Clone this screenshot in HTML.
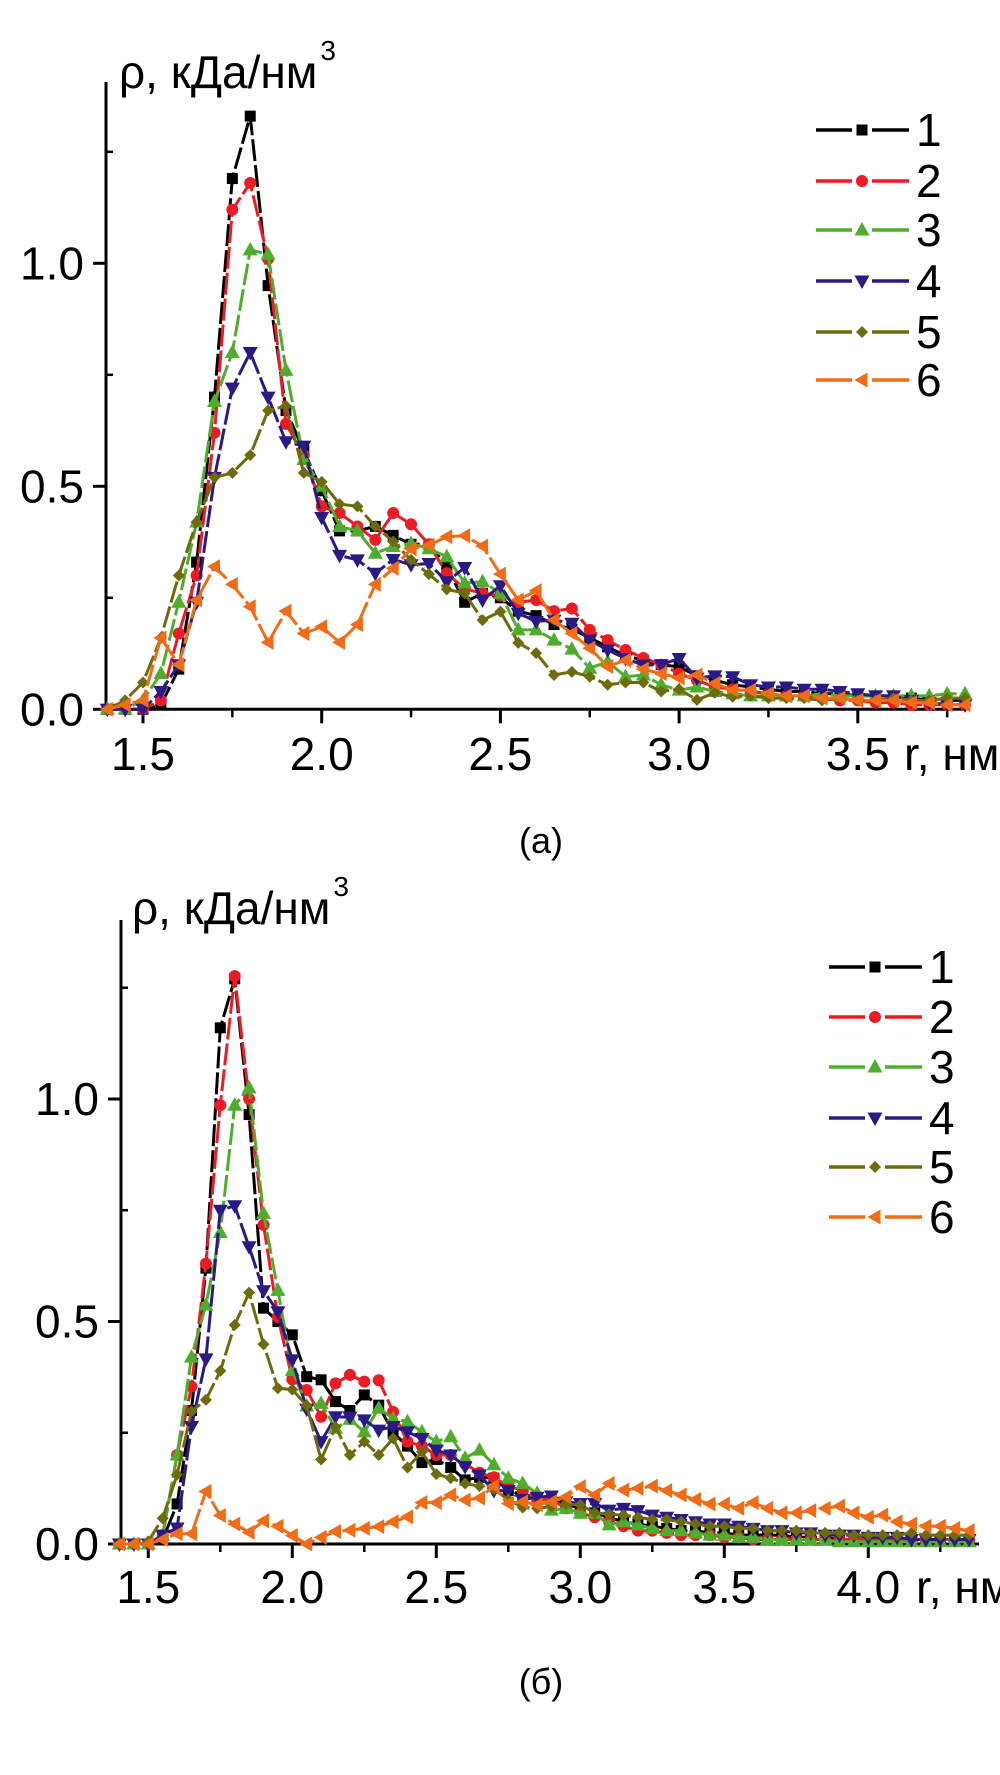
<!DOCTYPE html>
<html><head><meta charset="utf-8">
<style>
html,body{margin:0;padding:0;background:#fff;}
svg{display:block;}
text{font-family:"Liberation Sans",sans-serif;}
</style></head>
<body>
<svg id="fig" width="1000" height="1775" viewBox="0 0 1000 1775" xmlns="http://www.w3.org/2000/svg">
<rect width="1000" height="1775" fill="#fff"/>
</svg>
<script>
// ---------- data: panel (a) ----------
const rA = [1.40,1.45,1.50,1.55,1.60,1.65,1.70,1.75,1.80,1.85,1.90,1.95,2.00,2.05,2.10,2.15,2.20,2.25,2.30,2.35,2.40,2.45,2.50,2.55,2.60,2.65,2.70,2.75,2.80,2.85,2.90,2.95,3.00,3.05,3.10,3.15,3.20,3.25,3.30,3.35,3.40,3.45,3.50,3.55,3.60,3.65,3.70,3.75,3.80];
const a1 = [0,0,0,0.01,0.09,0.33,0.70,1.19,1.33,0.95,0.67,0.58,0.49,0.40,0.40,0.41,0.39,0.37,0.37,0.32,0.24,0.26,0.25,0.22,0.21,0.19,0.18,0.16,0.14,0.12,0.11,0.10,0.095,0.075,0.065,0.055,0.05,0.045,0.04,0.04,0.035,0.035,0.03,0.03,0.03,0.025,0.02,0.02,0.02];
const a2 = [0,0,0,0.02,0.17,0.30,0.62,1.12,1.18,1.01,0.64,0.57,0.455,0.44,0.41,0.38,0.44,0.415,0.37,0.305,0.27,0.26,0.255,0.24,0.245,0.22,0.226,0.178,0.155,0.133,0.115,0.10,0.08,0.065,0.05,0.045,0.04,0.035,0.03,0.03,0.025,0.02,0.02,0.015,0.015,0.01,0.01,0.01,0.01];
const a3 = [0,0,0.02,0.08,0.24,0.42,0.69,0.80,1.03,1.02,0.76,0.56,0.50,0.41,0.40,0.35,0.365,0.372,0.36,0.342,0.283,0.286,0.26,0.178,0.178,0.155,0.135,0.092,0.107,0.073,0.077,0.055,0.043,0.05,0.04,0.035,0.03,0.03,0.03,0.03,0.035,0.03,0.03,0.03,0.03,0.03,0.03,0.035,0.035];
const a4 = [0,0,0,0.04,0.10,0.24,0.52,0.72,0.80,0.70,0.60,0.59,0.43,0.345,0.335,0.305,0.336,0.324,0.327,0.286,0.318,0.245,0.277,0.215,0.197,0.20,0.193,0.155,0.133,0.114,0.099,0.10,0.114,0.07,0.075,0.073,0.055,0.05,0.05,0.045,0.045,0.04,0.035,0.03,0.03,0.02,0.015,0.01,0.01];
const a5 = [0,0.02,0.06,0.16,0.30,0.42,0.52,0.53,0.57,0.67,0.68,0.53,0.51,0.46,0.455,0.41,0.376,0.335,0.303,0.269,0.26,0.20,0.219,0.149,0.126,0.077,0.084,0.073,0.055,0.06,0.06,0.04,0.045,0.021,0.037,0.028,0.03,0.025,0.025,0.025,0.02,0.025,0.02,0.02,0.025,0.02,0.02,0.025,0.025];
const a6 = [0,0.01,0.02,0.16,0.10,0.245,0.32,0.28,0.23,0.15,0.22,0.17,0.185,0.15,0.19,0.28,0.316,0.36,0.368,0.387,0.389,0.366,0.303,0.245,0.266,0.20,0.17,0.137,0.096,0.11,0.09,0.08,0.07,0.077,0.058,0.043,0.043,0.035,0.03,0.03,0.025,0.025,0.02,0.02,0.02,0.015,0.015,0.01,0.01];
const xTicksA = ["1.5","2.0","2.5","3.0","3.5"];
// ---------- data: panel (b) ----------
const rB = [1.40,1.45,1.50,1.55,1.60,1.65,1.70,1.75,1.80,1.85,1.90,1.95,2.00,2.05,2.10,2.15,2.20,2.25,2.30,2.35,2.40,2.45,2.50,2.55,2.60,2.65,2.70,2.75,2.80,2.85,2.90,2.95,3.00,3.05,3.10,3.15,3.20,3.25,3.30,3.35,3.40,3.45,3.50,3.55,3.60,3.65,3.70,3.75,3.80,3.85,3.90,3.95,4.00,4.05,4.10,4.15,4.20,4.25,4.30,4.35];
const b1 = [0,0,0,0.01,0.09,0.30,0.62,1.16,1.27,0.965,0.53,0.50,0.47,0.376,0.369,0.32,0.30,0.335,0.312,0.25,0.22,0.183,0.19,0.172,0.144,0.15,0.148,0.12,0.11,0.10,0.10,0.09,0.08,0.07,0.06,0.05,0.045,0.04,0.035,0.03,0.03,0.025,0.025,0.02,0.02,0.02,0.02,0.015,0.015,0.015,0.01,0.01,0.01,0.01,0.01,0.01,0.01,0.01,0.01,0.01];
const b2 = [0,0,0,0.02,0.20,0.354,0.63,0.986,1.276,1.00,0.717,0.51,0.37,0.346,0.286,0.361,0.38,0.365,0.368,0.297,0.23,0.22,0.20,0.20,0.18,0.16,0.15,0.13,0.12,0.10,0.10,0.08,0.07,0.06,0.05,0.04,0.03,0.03,0.025,0.02,0.02,0.02,0.015,0.015,0.01,0.01,0.01,0.01,0.01,0.01,0.01,0.01,0.01,0.01,0.01,0.01,0.01,0.01,0.01,0.01];
const b3 = [0,0,0,0.02,0.20,0.42,0.537,0.70,0.986,1.025,0.743,0.57,0.39,0.31,0.316,0.26,0.28,0.252,0.305,0.282,0.275,0.252,0.23,0.241,0.193,0.211,0.178,0.148,0.136,0.114,0.076,0.08,0.069,0.069,0.043,0.05,0.043,0.035,0.03,0.03,0.025,0.02,0.02,0.015,0.015,0.01,0.01,0.01,0.01,0.01,0.005,0.005,0.005,0.005,0.005,0.005,0.005,0.005,0.005,0.005];
const b4 = [0,0,0,0.02,0.036,0.264,0.416,0.75,0.76,0.668,0.569,0.522,0.414,0.303,0.23,0.286,0.285,0.279,0.256,0.264,0.252,0.237,0.211,0.20,0.174,0.155,0.12,0.12,0.10,0.105,0.108,0.095,0.091,0.091,0.076,0.08,0.075,0.065,0.06,0.055,0.05,0.045,0.045,0.04,0.035,0.03,0.03,0.025,0.025,0.02,0.02,0.02,0.015,0.015,0.015,0.01,0.01,0.01,0.01,0.01];
const b5 = [0,0,0.006,0.058,0.156,0.298,0.324,0.389,0.492,0.565,0.449,0.35,0.347,0.311,0.19,0.263,0.20,0.23,0.20,0.237,0.172,0.207,0.157,0.148,0.136,0.13,0.123,0.10,0.082,0.08,0.084,0.09,0.088,0.07,0.067,0.065,0.06,0.055,0.055,0.05,0.045,0.04,0.04,0.035,0.035,0.03,0.03,0.03,0.025,0.025,0.025,0.02,0.02,0.02,0.02,0.025,0.02,0.02,0.02,0.02];
const b6 = [0,0,0,0.01,0.023,0.023,0.118,0.064,0.045,0.026,0.052,0.04,0.019,0.0,0.015,0.028,0.031,0.035,0.039,0.05,0.061,0.093,0.093,0.11,0.099,0.103,0.13,0.091,0.095,0.088,0.095,0.106,0.129,0.11,0.136,0.121,0.125,0.13,0.12,0.11,0.10,0.09,0.09,0.08,0.093,0.08,0.07,0.07,0.075,0.08,0.085,0.07,0.06,0.065,0.05,0.045,0.04,0.04,0.035,0.03];
const xTicksB = ["1.5","2.0","2.5","3.0","3.5","4.0"];
const yTicks = ["0.0","0.5","1.0"];
const seriesLabels = ["1","2","3","4","5","6"];

const NS = "http://www.w3.org/2000/svg";
const svg = document.getElementById('fig');
const colors = ["#000000","#ec1c24","#4fad2d","#2b1a86","#6e6b0c","#f26b16"];
const markers = ["square","circle","up","down","diamond","left"];
const FS = 46;

function mk(tag, attrs, parent){
  const e = document.createElementNS(NS, tag);
  for (const k in attrs) e.setAttribute(k, attrs[k]);
  (parent||svg).appendChild(e);
  return e;
}
function marker(g, type, x, y, c){
  let e;
  if (type==="square"){ e = mk('rect',{x:x-5.5,y:y-5.5,width:11,height:11,fill:c},g); }
  else if (type==="circle"){ e = mk('circle',{cx:x,cy:y,r:6,fill:c},g); }
  else if (type==="up"){ e = mk('polygon',{points:`${x},${y-8} ${x-7.5},${y+5.5} ${x+7.5},${y+5.5}`,fill:c},g); }
  else if (type==="down"){ e = mk('polygon',{points:`${x},${y+8} ${x-7.5},${y-5.5} ${x+7.5},${y-5.5}`,fill:c},g); }
  else if (type==="diamond"){ e = mk('polygon',{points:`${x},${y-6} ${x+6},${y} ${x},${y+6} ${x-6},${y}`,fill:c},g); }
  else { e = mk('polygon',{points:`${x-7.5},${y} ${x+5.5},${y-7.5} ${x+5.5},${y+7.5}`,fill:c},g); }
  
  
}

function panel(cfg){
  const {id, r, series, xTicks, x0, xs, y0, ys, left, right, top, minorMax, legX, legY, titleX, titleY, xlabX, lblY, caption, capY} = cfg;
  const X = v => x0 + (v-1.5)*xs;
  const Y = v => y0 - v*ys;
  const g = mk('g',{});
  
  
  const ax = mk('path',{d:`M${left},${top} L${left},${y0} L${right},${y0}`,stroke:'#000','stroke-width':3,fill:'none'},g);
  
  
  yTicks.forEach(t=>{
    const v = parseFloat(t), y = Y(v);
    mk('line',{x1:left-13,y1:y,x2:left,y2:y,stroke:'#000','stroke-width':3},g);
    const tx = mk('text',{x:left-22,y:y+16,'font-size':FS,'text-anchor':'end',fill:'#000'},g);
    tx.textContent = t;
    
    
  });
  [0.25,0.75,1.25].forEach(v=>{
    mk('line',{x1:left,y1:Y(v),x2:left+7,y2:Y(v),stroke:'#000','stroke-width':2.5},g);
  });
  xTicks.forEach(t=>{
    const v = parseFloat(t), x = X(v);
    mk('line',{x1:x,y1:y0,x2:x,y2:y0+14,stroke:'#000','stroke-width':3},g);
    const tx = mk('text',{x:x,y:lblY,'font-size':FS,'text-anchor':'middle',fill:'#000'},g);
    tx.textContent = t;
    
    
  });
  for (let v=1.75; v<minorMax; v+=0.5){
    mk('line',{x1:X(v),y1:y0,x2:X(v),y2:y0+8,stroke:'#000','stroke-width':2.5},g);
  }
  series.forEach((s,k)=>{
    const sg = mk('g',{},g);
    
    
    const n = Math.min(s.length, r.length);
    let d = '';
    for (let i=0;i<n;i++){
      const xx = X(r[i]); if (xx>right+2) break;
      d += (i?'L':'M')+xx.toFixed(1)+','+Y(s[i]).toFixed(1);
    }
    const p = mk('path',{d:d,stroke:colors[k],'stroke-width':3,fill:'none','stroke-dasharray':'22,4','stroke-linejoin':'round'},sg);
    
    
    for (let i=0;i<n;i++){
      const xx = X(r[i]); if (xx>right+2) break;
      marker(sg, markers[k], xx, Y(s[i]), colors[k]);
    }
  });
  const lg = mk('g',{},g);
  
  
  seriesLabels.forEach((lab,k)=>{
    const y = legY[k];
    const eg = mk('g',{},lg);
    
    
    mk('line',{x1:legX,y1:y,x2:legX+36,y2:y,stroke:colors[k],'stroke-width':3.5},eg);
    mk('line',{x1:legX+56,y1:y,x2:legX+93,y2:y,stroke:colors[k],'stroke-width':3.5},eg);
    marker(eg, markers[k], legX+46, y, colors[k]);
    const tx = mk('text',{x:legX+100,y:y+16,'font-size':FS,fill:'#000'},eg);
    tx.textContent = lab;
  });
  const tt = mk('text',{x:titleX,y:titleY,'font-size':FS,fill:'#000'},g);
  tt.textContent = 'ρ, кДа/нм';
  
  
  let w = 199;
  try { w = tt.getComputedTextLength(); } catch(e) {}
  const sup = mk('text',{x:titleX+w+3,y:titleY-28,'font-size':28,fill:'#000'},g);
  sup.textContent = '3';
  
  
  const xl = mk('text',{x:xlabX,y:lblY,'font-size':FS,fill:'#000'},g);
  xl.textContent = 'r, нм';
  
  
  const cp = mk('text',{x:541,y:capY,'font-size':36,'text-anchor':'middle',fill:'#000','font-family':'"Liberation Serif",serif'},g);
  cp.textContent = caption;
  
  
}

panel({id:'chart-a', r:rA, series:[a1,a2,a3,a4,a5,a6], xTicks:xTicksA,
  x0:143, xs:357.4, y0:709.3, ys:446, left:106, right:966, top:82, minorMax:3.8,
  legX:816, legY:[130,181,230,281,332,380], titleX:119, titleY:88, xlabX:904, lblY:770,
  caption:'(а)', capY:853});
panel({id:'chart-b', r:rB, series:[b1,b2,b3,b4,b5,b6], xTicks:xTicksB,
  x0:148.3, xs:288, y0:1544, ys:445, left:121, right:979, top:920, minorMax:4.4,
  legX:829, legY:[967,1017,1067,1118,1167,1217], titleX:132, titleY:924, xlabX:916, lblY:1603,
  caption:'(б)', capY:1694});
</script>
</body></html>
